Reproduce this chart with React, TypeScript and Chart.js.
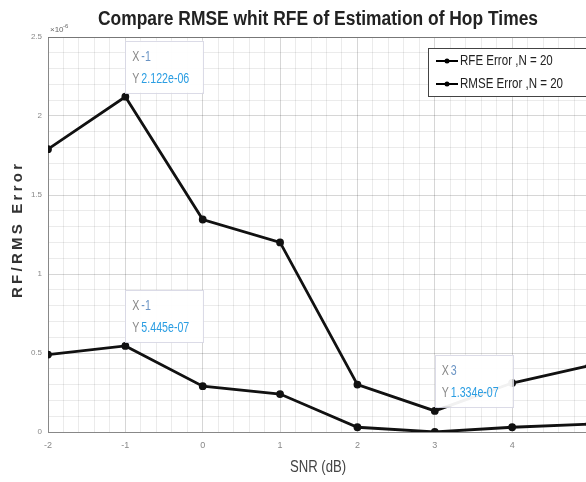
import React, { useEffect, useRef } from "react";
import { Chart, registerables } from "chart.js";

Chart.register(...registerables);

const snr = [-2, -1, 0, 1, 2, 3, 4, 5];
const rfeError = [1.79, 2.122, 1.345, 1.2, 0.3, 0.1334, 0.31, 0.42];
const rmseError = [0.49, 0.5445, 0.29, 0.24, 0.03, 0.0, 0.03, 0.05];
const seriesNames = ["RFE Error ,N = 20", "RMSE Error ,N = 20"];
const titleText = "Compare RMSE whit RFE of Estimation of Hop Times";
const xTitle = "SNR (dB)";
const yTitle = "RF/RMS Error";
const datatips = [
  { series: 0, index: 1, xLabel: "-1", yLabel: "2.122e-06" },
  { series: 1, index: 1, xLabel: "-1", yLabel: "5.445e-07" },
  { series: 0, index: 5, xLabel: "3", yLabel: "1.334e-07" },
];

const SANS = "'Liberation Sans', Arial, sans-serif";

function squeezed(ctx: any, text: string, x: number, y: number, sx: number) {
  ctx.save();
  ctx.translate(x, y);
  ctx.scale(sx, 1);
  ctx.fillText(text, 0, 0);
  ctx.restore();
}

const decorPlugin = {
  id: "decor",
  afterDraw(chart: any) {
    const ctx = chart.ctx;
    const area = chart.chartArea;
    ctx.save();
    // top frame line
    ctx.strokeStyle = "#777";
    ctx.lineWidth = 1;
    ctx.beginPath();
    ctx.moveTo(area.left, Math.round(area.top) + 0.5);
    ctx.lineTo(area.right, Math.round(area.top) + 0.5);
    ctx.stroke();
    // title
    ctx.fillStyle = "#222";
    ctx.font = `bold 20px ${SANS}`;
    ctx.textAlign = "center";
    ctx.textBaseline = "middle";
    const tw = ctx.measureText(titleText).width;
    squeezed(ctx, titleText, 318, 19, 440 / tw);
    // y title
    ctx.save();
    ctx.translate(18, 231);
    ctx.rotate(-Math.PI / 2);
    ctx.font = `bold 15px ${SANS}`;
    ctx.fillStyle = "#333";
    const yw = ctx.measureText(yTitle).width;
    const ls = Math.max(0, (134 - yw) / (yTitle.length - 1));
    (ctx as any).letterSpacing = `${ls}px`;
    ctx.textAlign = "center";
    ctx.fillText(yTitle, ls / 2, 0);
    ctx.restore();
    // x title
    ctx.fillStyle = "#444";
    ctx.font = `16px ${SANS}`;
    ctx.textAlign = "center";
    squeezed(ctx, xTitle, 318, 468, 0.82);
    // exponent
    ctx.fillStyle = "#666";
    ctx.font = `8px ${SANS}`;
    ctx.textAlign = "left";
    ctx.fillText("\u00d710", area.left + 2, 30);
    ctx.font = `6px ${SANS}`;
    ctx.fillText("-6", area.left + 15, 26);
    // datatips
    for (const d of datatips) {
      const el = chart.getDatasetMeta(d.series).data[d.index];
      const px = el.x;
      const py = el.y;
      const left = px;
      const top = py - 56;
      const w = 78;
      const h = 52;
      ctx.fillStyle = "rgba(255,255,255,0.94)";
      ctx.fillRect(left, top, w, h);
      ctx.strokeStyle = "rgba(215,215,228,0.9)";
      ctx.lineWidth = 1;
      ctx.strokeRect(Math.round(left) + 0.5, Math.round(top) + 0.5, w, h);
      ctx.font = `14px ${SANS}`;
      ctx.textAlign = "left";
      ctx.textBaseline = "middle";
      ctx.fillStyle = "#888";
      squeezed(ctx, "X", left + 7, top + 16, 0.76);
      squeezed(ctx, "Y", left + 7, top + 38, 0.76);
      ctx.fillStyle = "#6a94c4";
      squeezed(ctx, d.xLabel, left + 16, top + 16, 0.76);
      ctx.fillStyle = "#2a9de2";
      squeezed(ctx, d.yLabel, left + 16, top + 38, 0.76);
    }
    // legend
    const lx = 428;
    const ly = 48;
    ctx.fillStyle = "#fff";
    ctx.fillRect(lx, ly, 200, 48);
    ctx.strokeStyle = "#444";
    ctx.lineWidth = 1;
    ctx.strokeRect(lx + 0.5, ly + 0.5, 200, 48);
    ctx.font = `15px ${SANS}`;
    ctx.textBaseline = "middle";
    ctx.textAlign = "left";
    seriesNames.forEach((name, i) => {
      const y = ly + 13 + i * 23;
      ctx.strokeStyle = "#000";
      ctx.lineWidth = 2;
      ctx.beginPath();
      ctx.moveTo(lx + 8, y);
      ctx.lineTo(lx + 30, y);
      ctx.stroke();
      ctx.fillStyle = "#000";
      ctx.beginPath();
      ctx.arc(lx + 19, y, 2.5, 0, Math.PI * 2);
      ctx.fill();
      ctx.fillStyle = "#222";
      squeezed(ctx, name, lx + 32, y, 0.77);
    });
    ctx.restore();
  },
};

export default function App() {
  const ref = useRef<HTMLCanvasElement>(null);
  useEffect(() => {
    if (!ref.current) return;
    const ds = (label: string, vals: number[]) => ({
      label,
      data: snr.map((x, i) => ({ x, y: vals[i] })),
      borderColor: "#111",
      backgroundColor: "#111",
      borderWidth: 2.8,
      pointRadius: 2.5,
      pointBackgroundColor: "#111",
      tension: 0,
    });
    const chart = new Chart(ref.current, {
      type: "line",
      data: { datasets: [ds(seriesNames[0], rfeError), ds(seriesNames[1], rmseError)] },
      options: {
        animation: false,
        responsive: false,
        devicePixelRatio: 1,
        layout: { padding: { top: 37, right: 10, left: 0, bottom: 0 } },
        plugins: {
          legend: { display: false },
          title: { display: false },
          tooltip: { enabled: false },
        },
        scales: {
          x: {
            type: "linear",
            min: -2,
            max: 5,
            afterFit: (s: any) => {
              s.height = 50;
            },
            afterBuildTicks: (s: any) => {
              const t = [];
              for (let i = 0; i <= 35; i++) t.push({ value: -2 + i * 0.2 });
              s.ticks = t;
            },
            grid: {
              color: (c: any) =>
                Math.abs(c.tick.value - Math.round(c.tick.value)) < 1e-6
                  ? "rgba(0,0,0,0.16)"
                  : "rgba(0,0,0,0.08)",
              drawTicks: false,
            },
            border: { display: true, color: "#888" },
            ticks: {
              autoSkip: false,
              maxRotation: 0,
              padding: 8,
              color: "#888",
              font: { size: 9, family: SANS },
              callback: (v: any) => {
                const n = Number(v);
                return Math.abs(n - Math.round(n)) < 1e-6 ? String(Math.round(n)) : "";
              },
            },
          },
          y: {
            min: 0,
            max: 2.5,
            afterFit: (s: any) => {
              s.width = 48;
            },
            afterBuildTicks: (s: any) => {
              const t = [];
              for (let i = 0; i <= 25; i++) t.push({ value: i * 0.1 });
              s.ticks = t;
            },
            grid: {
              color: (c: any) =>
                Math.abs(c.tick.value * 2 - Math.round(c.tick.value * 2)) < 1e-6
                  ? "rgba(0,0,0,0.16)"
                  : "rgba(0,0,0,0.08)",
              drawTicks: false,
            },
            border: { display: true, color: "#888" },
            ticks: {
              autoSkip: false,
              padding: 6,
              color: "#888",
              font: { size: 8, family: SANS },
              callback: (v: any) => {
                const n = Number(v);
                const r = Math.round(n * 2) / 2;
                return Math.abs(n - r) < 1e-6 ? String(r) : "";
              },
            },
          },
        },
      },
      plugins: [decorPlugin],
    });
    return () => chart.destroy();
  }, []);
  return (
    <div
      style={{
        position: "fixed",
        left: 0,
        top: 0,
        width: 586,
        height: 482,
        overflow: "hidden",
        background: "#fff",
      }}
    >
      <canvas ref={ref} width={600} height={482} style={{ display: "block" }} />
    </div>
  );
}
